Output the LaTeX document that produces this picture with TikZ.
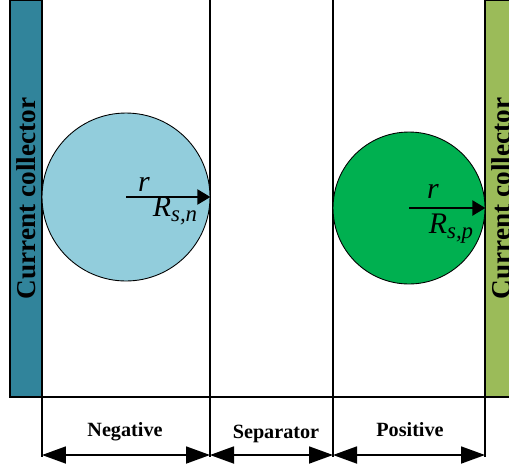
\documentclass[tikz,border=0pt]{standalone}
\usepackage{fontspec}
\setmainfont{Liberation Serif}
\usepackage{xcolor}
\usetikzlibrary{positioning, arrows.meta}

\definecolor{negcc}{HTML}{31849B}
\definecolor{poscc}{HTML}{9BBB59}
\definecolor{negfill}{HTML}{92CDDC}
\definecolor{posfill}{HTML}{00B050}

\newcommand{\radsym}[1]{R\raisebox{-0.35ex}{\fontsize{13}{13}\selectfont #1}}

\begin{document}
\begin{tikzpicture}[
    x=0.02cm, y=-0.02cm,
    collector/.style={rectangle, draw, line width=1.2pt, rotate=90, minimum width=7.94cm, minimum height=0.64cm, inner sep=0pt, font=\fontsize{15.5}{17}\selectfont\bfseries},
    particle/.style={circle, draw, line width=0.5pt, inner sep=0pt},
    region/.style={font=\fontsize{11.5}{13}\selectfont\bfseries},
    radius/.style={-{Triangle[length=0.26cm, width=0.3cm]}, line width=1.2pt},
    dim/.style={{Triangle[length=0.48cm, width=0.34cm]}-{Triangle[length=0.48cm, width=0.34cm]}, line width=1pt},
    sym/.style={font=\fontsize{17}{19}\selectfont\itshape}
]
\useasboundingbox (0,0) rectangle (509,470);

% electrode walls
\coordinate (w1) at (42,0);
\coordinate (w2) at (210,0);
\coordinate (w3) at (333,0);
\coordinate (w4) at (485,0);
\coordinate (b1) at (42,457);
\coordinate (b2) at (210,457);
\coordinate (b3) at (333,457);
\coordinate (b4) at (485,457);
\draw[line width=0.8pt] (w1) -- (b1);
\draw[line width=0.8pt] (w2) -- (b2);
\draw[line width=0.8pt] (w3) -- (b3);
\draw[line width=0.8pt] (w4) -- (b4);
\coordinate (floorL) at (10,397);
\coordinate (floorR) at (509,397);
\draw[line width=1pt] (floorL) -- (floorR);

% current collectors
\node[collector, fill=negcc] (ccn) at (26,198.5) {Current collector};
\node[collector, fill=poscc] (ccp) at (501,198.5) {Current collector};

% particles
\node[particle, fill=negfill, minimum size=3.36cm] (neg) at (126,197) {};
\node[particle, fill=posfill, minimum size=3.04cm] (pos) at (409,208) {};
\draw[radius] (neg.center) -- (neg.east);
\draw[radius] (pos.center) -- (pos.east);
\node[sym] (rn) at (144,184) {r};
\node[sym] (Rn) at (175,211) {\radsym{s,n}};
\node[sym] (rp) at (433,191) {r};
\node[sym] (Rp) at (451,229) {\radsym{s,p}};

% regions
\coordinate (d1) at (42,455);
\coordinate (d2) at (210,455);
\coordinate (d3) at (333,455);
\coordinate (d4) at (485,455);
\draw[dim] (d1) -- (d2);
\draw[dim] (d2) -- (d3);
\draw[dim] (d3) -- (d4);
\node[region] (lneg) at (125,432) {Negative};
\node[region] (lsep) at (276,434) {Separator};
\node[region] (lpos) at (410,430) {Positive};

\end{tikzpicture}
\end{document}
